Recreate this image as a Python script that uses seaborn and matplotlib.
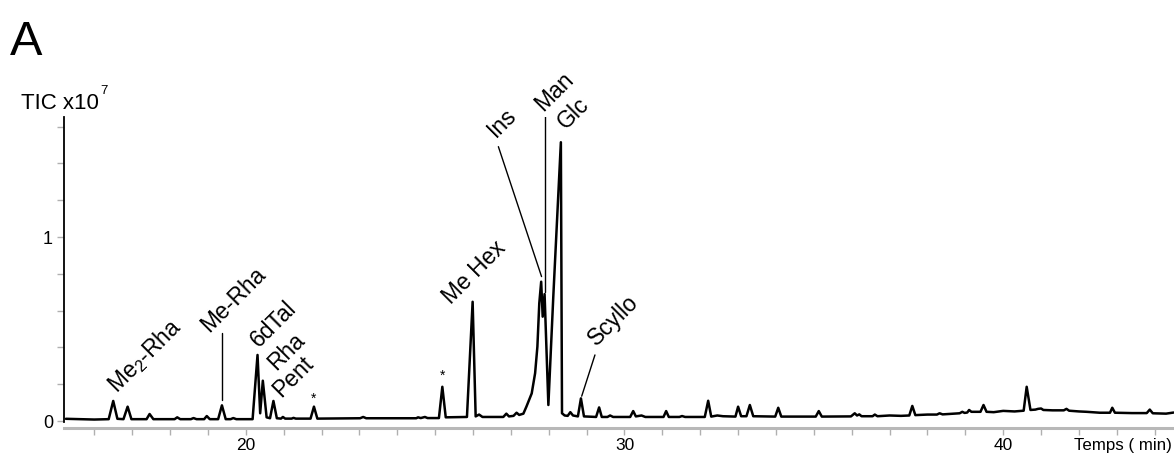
import pandas as pd
import matplotlib
matplotlib.use("Agg")
import matplotlib.pyplot as plt
import seaborn as sns
from matplotlib.ticker import MultipleLocator, FixedLocator

# GC-MS trace (time in min, TIC in units of 1e7)
trace_time = [
    15.25, 15.6, 16.0, 16.38, 16.50, 16.61, 16.77, 16.88, 16.98, 17.38, 17.46, 17.56,
    18.12, 18.19, 18.27, 18.55, 18.62, 18.70, 18.90, 18.97, 19.05, 19.27, 19.37, 19.47,
    19.60, 19.67, 19.75, 20.18, 20.31, 20.38, 20.45, 20.55, 20.64, 20.73, 20.82, 20.93,
    20.98, 21.04, 21.21, 21.26, 21.32, 21.71, 21.80, 21.89, 23.02, 23.10, 23.18, 24.50,
    24.55, 24.62, 24.73, 24.80, 25.10, 25.19, 25.28, 25.84, 25.99, 26.07, 26.16, 26.25,
    26.80, 26.88, 26.95, 27.07, 27.15, 27.22, 27.33, 27.41, 27.55, 27.64, 27.70, 27.75,
    27.80, 27.84, 27.89, 27.99, 28.12, 28.32, 28.35, 28.42, 28.50, 28.57, 28.64, 28.77,
    28.85, 28.93, 29.25, 29.33, 29.40, 29.55, 29.62, 29.70, 30.15, 30.23, 30.30, 30.45,
    30.55, 31.03, 31.10, 31.17, 31.45, 31.52, 31.60, 32.12, 32.21, 32.29, 32.45, 32.60,
    32.93, 33.00, 33.08, 33.22, 33.31, 33.40, 33.98, 34.06, 34.14, 35.05, 35.13, 35.21,
    35.98, 36.08, 36.14, 36.20, 36.26, 36.55, 36.61, 36.68, 37.00, 37.30, 37.52, 37.60,
    37.68, 38.00, 38.25, 38.32, 38.40, 38.85, 38.92, 38.98, 39.05, 39.10, 39.16, 39.40,
    39.48, 39.56, 39.75, 40.00, 40.30, 40.54, 40.62, 40.72, 40.85, 40.92, 41.00, 41.06,
    41.30, 41.60, 41.67, 41.74, 42.00, 42.20, 42.55, 42.82, 42.88, 42.95, 43.40, 43.79,
    43.87, 43.95, 44.30, 44.50,
]
trace_tic = [
    0.012, 0.010, 0.008, 0.010, 0.109, 0.012, 0.010, 0.078, 0.010, 0.010, 0.038, 0.010,
    0.010, 0.020, 0.010, 0.010, 0.016, 0.010, 0.010, 0.027, 0.010, 0.010, 0.085, 0.010,
    0.010, 0.016, 0.010, 0.010, 0.359, 0.042, 0.219, 0.020, 0.015, 0.109, 0.015, 0.013,
    0.022, 0.013, 0.013, 0.017, 0.013, 0.013, 0.078, 0.013, 0.015, 0.022, 0.015, 0.015,
    0.020, 0.016, 0.022, 0.016, 0.016, 0.186, 0.020, 0.022, 0.648, 0.025, 0.035, 0.022,
    0.022, 0.040, 0.025, 0.028, 0.045, 0.033, 0.040, 0.078, 0.150, 0.260, 0.404, 0.640,
    0.757, 0.567, 0.690, 0.087, 0.676, 1.515, 0.042, 0.030, 0.028, 0.048, 0.030, 0.025,
    0.123, 0.025, 0.022, 0.074, 0.022, 0.022, 0.030, 0.022, 0.022, 0.054, 0.025, 0.030,
    0.022, 0.022, 0.054, 0.022, 0.022, 0.027, 0.022, 0.022, 0.110, 0.024, 0.030, 0.026,
    0.024, 0.078, 0.026, 0.026, 0.087, 0.026, 0.024, 0.072, 0.024, 0.024, 0.054, 0.024,
    0.025, 0.042, 0.030, 0.036, 0.026, 0.026, 0.035, 0.026, 0.030, 0.028, 0.030, 0.082,
    0.032, 0.035, 0.035, 0.042, 0.036, 0.042, 0.050, 0.044, 0.046, 0.060, 0.050, 0.050,
    0.087, 0.050, 0.048, 0.055, 0.052, 0.056, 0.186, 0.060, 0.062, 0.066, 0.068, 0.060,
    0.058, 0.058, 0.066, 0.056, 0.052, 0.050, 0.045, 0.045, 0.072, 0.045, 0.043, 0.043,
    0.062, 0.042, 0.040, 0.046,
]

# peak labels: text, anchor time, anchor TIC (baseline start of rotated text)
peak_labels = ["Me$_2$-Rha", "Me-Rha", "6dTal", "Rha", "Pent", "Me Hex", "Ins", "Man", "Glc", "Scyllo"]
label_time = [16.60, 19.03, 20.35, 20.80, 20.94, 25.42, 26.60, 27.84, 28.46, 29.25]
label_tic = [0.147, 0.478, 0.395, 0.273, 0.123, 0.630, 1.536, 1.681, 1.580, 0.404]

# contaminant peaks marked with an asterisk
star_time = [21.78, 25.19]
star_tic = [0.120, 0.245]

# leader lines: (time start, time end), (tic start, tic end)
leader_time = [(19.37, 19.37), (26.67, 27.81), (27.91, 27.91), (29.22, 28.87)]
leader_tic = [(0.478, 0.114), (1.491, 0.785), (1.663, 0.700), (0.359, 0.135)]

df = pd.DataFrame({"time": trace_time, "tic": trace_tic})

sns.set_style("white")
plt.rcParams["font.family"] = ["Liberation Sans", "DejaVu Sans"]
plt.rcParams["text.color"] = "black"
plt.rcParams["mathtext.fontset"] = "custom"
plt.rcParams["mathtext.rm"] = "Liberation Sans"
plt.rcParams["mathtext.default"] = "rm"

fig = plt.figure(figsize=(11.74, 4.54), dpi=100)
ax = fig.add_axes([64 / 1174, 26 / 454, 1 - 64 / 1174, 310.6 / 454])

sns.lineplot(data=df, x="time", y="tic", color="black", linewidth=1.8, ax=ax)

for txt, tx, ty in zip(peak_labels, label_time, label_tic):
    ax.text(tx, ty, txt, rotation=45, rotation_mode="anchor", ha="left", va="baseline",
            fontsize=16.5, color="black", clip_on=False)
for tx, ty in zip(star_time, star_tic):
    ax.text(tx, ty, "*", ha="center", va="center", fontsize=10, color="black")
for lx, ly in zip(leader_time, leader_tic):
    ax.plot(lx, ly, color="black", linewidth=1.0)

ax.set_xlim(15.2, 44.51)
ax.set_ylim(-0.038, 1.65)
ax.set_xlabel("")
ax.set_ylabel("")

ax.xaxis.set_major_locator(FixedLocator([20, 30, 40]))
ax.xaxis.set_minor_locator(MultipleLocator(1))
ax.yaxis.set_major_locator(FixedLocator([0, 1]))
ax.yaxis.set_minor_locator(MultipleLocator(0.2))
ax.tick_params(axis="both", which="both", direction="out", color="#b0b0b0",
               length=5, width=1, labelcolor="black")
ax.tick_params(axis="x", which="major", labelsize=12.5, pad=2)
ax.tick_params(axis="y", which="major", labelsize=13, pad=3)
ax.tick_params(bottom=True, left=True, which="both")

sns.despine(ax=ax)
ax.spines["left"].set_color("black")
ax.spines["left"].set_linewidth(1.3)
ax.spines["left"].set_bounds(-0.004, 1.65)
ax.spines["bottom"].set_color("#b8b8b8")
ax.spines["bottom"].set_linewidth(2.2)

fig.text(10 / 1174, 1 - 55 / 454, "A", fontsize=35, va="baseline", ha="left")
fig.text(21 / 1174, 1 - 109 / 454, "TIC x10", fontsize=16, va="baseline", ha="left")
fig.text(100 / 1174, 1 - 94 / 454, "7", fontsize=9.5, va="baseline", ha="left")
fig.text(1172 / 1174, 1 - 450 / 454, "Temps ( min)", fontsize=12.2, va="baseline", ha="right")

fig.savefig("out.png", dpi=100)
